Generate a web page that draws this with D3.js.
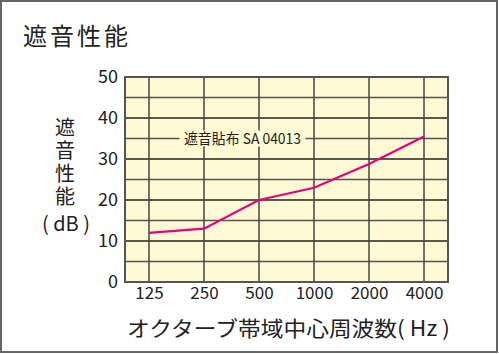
<!DOCTYPE html>
<html>
<head>
<meta charset="utf-8">
<script src="https://cdn.jsdelivr.net/npm/d3@7"></script>
<style>
  body { margin: 0; background: #fff; }
  svg { display: block; }
</style>
</head>
<body>
<div id="chart"></div>
<script>
// data
var freqs = ["125", "250", "500", "1000", "2000", "4000"];
var values = [12, 13, 20, 23, 28.8, 35.5];
var yTicks = [0, 10, 20, 30, 40, 50];
var seriesName = "遮音貼布 SA 04013";

var svgWidth = 499, svgHeight = 354;
var margin = { top: 77, left: 125, right: 51, bottom: 72 };
var width = svgWidth - margin.left - margin.right;
var height = svgHeight - margin.top - margin.bottom;

var font = "'Noto Sans CJK JP', 'Noto Sans', sans-serif";

var svg = d3.select("#chart").append("svg")
  .attr("width", svgWidth)
  .attr("height", svgHeight);

// outer frame
svg.append("rect")
  .attr("x", 1).attr("y", 1)
  .attr("width", svgWidth - 3).attr("height", svgHeight - 3)
  .attr("fill", "#fff")
  .attr("stroke", "#666")
  .attr("stroke-width", 2);

// title
svg.append("text")
  .attr("x", 23).attr("y", 45)
  .attr("font-family", font)
  .attr("font-size", 24)
  .attr("letter-spacing", 3)
  .attr("fill", "#222")
  .text("遮音性能");

var chartGroup = svg.append("g")
  .attr("transform", `translate(${margin.left}, ${margin.top})`);

// scales
var xScale = d3.scalePoint()
  .domain(freqs)
  .range([0, width])
  .padding(0.436);

var yScale = d3.scaleLinear()
  .domain([0, 50])
  .range([height, 0]);

// plot background
chartGroup.append("rect")
  .attr("width", width).attr("height", height)
  .attr("fill", "#fff9d4");

// horizontal grid every 5
chartGroup.append("g")
  .selectAll("line")
  .data(d3.range(5, 50, 5))
  .enter()
  .append("line")
  .attr("x1", 0).attr("x2", width)
  .attr("y1", d => yScale(d)).attr("y2", d => yScale(d))
  .attr("stroke", d => d % 10 == 0 ? "#222" : "#555")
  .attr("stroke-width", 1.5);

// vertical grid
chartGroup.append("g")
  .selectAll("line")
  .data(freqs)
  .enter()
  .append("line")
  .attr("x1", d => xScale(d)).attr("x2", d => xScale(d))
  .attr("y1", 0).attr("y2", height)
  .attr("stroke", "#444")
  .attr("stroke-width", 1.5);

// plot border
chartGroup.append("rect")
  .attr("width", width).attr("height", height)
  .attr("fill", "none")
  .attr("stroke", "#555")
  .attr("stroke-width", 2);

// axes (only labels shown)
var yAxis = d3.axisLeft(yScale).tickValues(yTicks).tickSize(0).tickPadding(7);
var yG = chartGroup.append("g").call(yAxis);
yG.select(".domain").remove();
yG.selectAll("text")
  .attr("font-family", font)
  .attr("font-size", 18)
  .attr("fill", "#222");

var xAxis = d3.axisBottom(xScale).tickSize(0).tickPadding(5);
var xG = chartGroup.append("g")
  .attr("transform", `translate(0, ${height})`)
  .call(xAxis);
xG.select(".domain").remove();
xG.selectAll("text")
  .attr("font-family", font)
  .attr("font-size", 17)
  .attr("fill", "#222");

// series line
var line = d3.line()
  .x((d, i) => xScale(freqs[i]))
  .y(d => yScale(d));

chartGroup.append("path")
  .datum(values)
  .attr("d", line)
  .attr("fill", "none")
  .attr("stroke", "#e5007f")
  .attr("stroke-width", 2.2);

// series label with box covering the grid
var labelX = xScale("250") + (xScale("500") - xScale("250")) * 0.7;
var labelY = yScale(35);
chartGroup.append("rect")
  .attr("x", labelX - 63).attr("y", labelY - 8)
  .attr("width", 126).attr("height", 16)
  .attr("fill", "#fff9d4");
chartGroup.append("text")
  .attr("x", labelX).attr("y", labelY + 5)
  .attr("text-anchor", "middle")
  .attr("font-family", font)
  .attr("font-size", 15)
  .attr("textLength", 117)
  .attr("lengthAdjust", "spacingAndGlyphs")
  .attr("fill", "#222")
  .text(seriesName);

// y axis title, written vertically
svg.append("text")
  .attr("x", 65).attr("y", 117)
  .attr("writing-mode", "vertical-rl")
  .attr("font-family", font)
  .attr("font-size", 20)
  .attr("letter-spacing", 3)
  .attr("fill", "#222")
  .text("遮音性能");

svg.append("text")
  .attr("x", 66).attr("y", 231)
  .attr("text-anchor", "middle")
  .attr("font-family", font)
  .attr("font-size", 20)
  .attr("fill", "#222")
  .text("( dB )");

// x axis title
svg.append("text")
  .attr("x", 127).attr("y", 336)
  .attr("font-family", font)
  .attr("font-size", 21)
  .attr("textLength", 323)
  .attr("lengthAdjust", "spacingAndGlyphs")
  .attr("fill", "#222")
  .text("オクターブ帯域中心周波数( Hz )");
</script>
</body>
</html>
